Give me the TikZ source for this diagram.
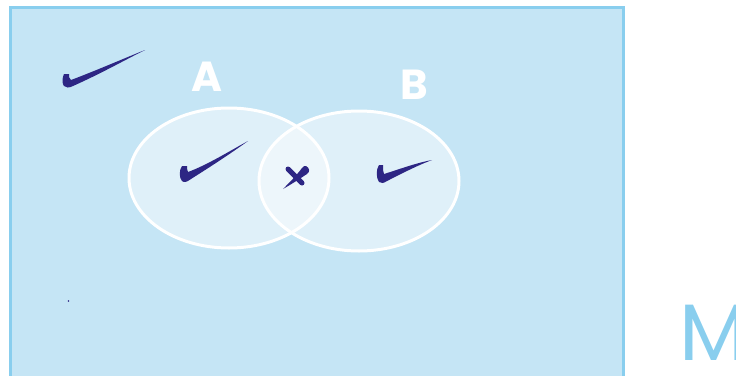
\documentclass[tikz,border=0pt]{standalone}
\usepackage{fontspec}
\setmainfont{Poppins}
\definecolor{navy}{RGB}{45,38,132}
\definecolor{skyfill}{RGB}{197,229,245}
\definecolor{skyline}{RGB}{137,206,238}
\begin{document}
\begin{tikzpicture}[x=1pt,y=-1pt,
  setellipse/.style={fill=white,fill opacity=0.45,draw=none},
  setoutline/.style={draw=white,line width=3},
  tick/.style={fill=navy,draw=none},
  letter/.style={text=white,font=\bfseries\fontsize{42}{42}\selectfont,inner sep=0pt}]
\useasboundingbox (0,0) rectangle (736,375);
\clip (0,0) rectangle (736,375);
% universe
\draw[fill=skyfill,draw=skyline,line width=3] (10.5,7.5) rectangle (623,385);
% sets
\fill[setellipse] (229,178) ellipse [x radius=100,y radius=70];
\fill[setellipse] (359,181) ellipse [x radius=100,y radius=70];
\draw[setoutline] (229,178) ellipse [x radius=100,y radius=70];
\draw[setoutline] (359,181) ellipse [x radius=100,y radius=70];
% labels
\node[letter] (A) at (207,77) {A};
\node[letter] (B) at (414,85) {B};
\node[text=skyline,font=\fontsize{80}{80}\selectfont,inner sep=0pt,anchor=west] (M) at (679,333) {M};
% ticks
\fill[tick] (64,74) .. controls (62,78) and (62,84) .. (64,86) .. controls (66,88) and (69,88) .. (73,86) .. controls (100,74) and (125,60) .. (145,50) .. controls (125,58) and (95,71) .. (71,80) .. controls (69,79) and (69,76) .. (69,74) -- cycle;
\fill[tick] (182,166) .. controls (179,170) and (179,178) .. (182,181) .. controls (184,183) and (187,182) .. (191,179) .. controls (210,167) and (230,154) .. (248,141) .. controls (228,152) and (207,165) .. (188,172) .. controls (187,170) and (187,168) .. (187,166) -- cycle;
\fill[tick] (379,165) .. controls (376,169) and (376,178) .. (379,182) .. controls (381,184) and (384,183) .. (387,181) .. controls (401,174) and (416,166) .. (432,160) .. controls (416,163) and (400,169) .. (384,174) .. controls (383,172) and (383,169) .. (383,165) -- cycle;
% cross
\draw[navy,line width=5,line cap=round] (288,169) -- (302,183);
\fill[tick] (306,166) .. controls (310,168) and (310,172) .. (307,174) .. controls (298,180) and (290,185) .. (283,189) .. controls (290,182) and (296,176) .. (302,168) .. controls (303,166) and (305,166) .. (306,166) -- cycle;
% dot
\fill[navy] (68.5,301) circle (0.9);
\end{tikzpicture}
\end{document}
